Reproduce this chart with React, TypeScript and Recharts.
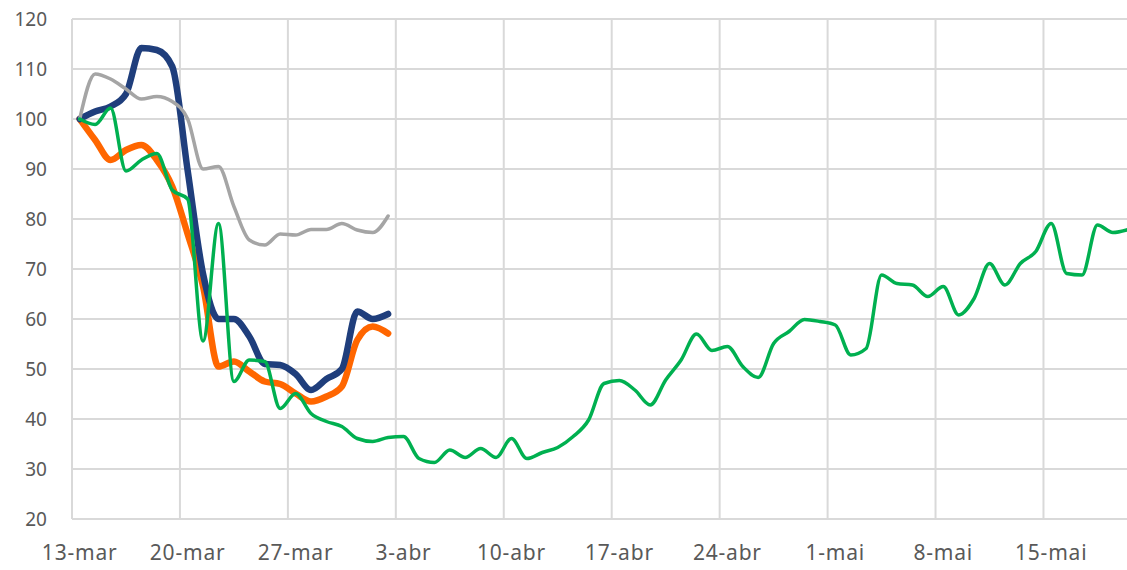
import { LineChart, Line, XAxis, YAxis, CartesianGrid } from "recharts";

// daily series starting 13-mar (index 0)
const navyValues = [
  100, 101.5, 102.5, 105, 114.2, 113.8, 110.5, 89.7, 69, 60, 60, 56.5, 51,
  50.8, 49, 45.8, 48, 50, 61.5, 60, 61,
];
const orangeValues = [
  100, 95.8, 91.8, 93.8, 94.8, 91.8, 86.5, 77, 66.5, 50.5, 51.5, 49.5, 47.5,
  47, 45.1, 43.5, 44.5, 46.5, 55.8, 58.5, 57.1,
];
const grayValues = [
  100, 109, 108, 106, 104, 104.5, 103.5, 100, 90, 90.5, 82.5, 75.8, 74.8, 77,
  76.8, 77.9, 77.9, 79.1, 77.8, 77.3, 80.6,
];
const greenValues = [
  100, 98.9, 102.2, 89.6, 91.8, 93.1, 85.8, 84, 55.6, 79.1,
  47.5, 51.8, 51.5, 42.1, 45.1, 41.1, 39.5, 38.5, 36.1, 35.5,
  36.3, 36.5, 32.1, 31.3, 33.8, 32.3, 34.1, 32.3, 36.1, 32.1,
  33.3, 34.3, 36.5, 39.8, 47.1, 47.7, 45.8, 42.8, 47.8, 51.8,
  57, 53.7, 54.5, 50.5, 48.3, 55.1, 57.5, 59.9, 59.5, 58.8,
  52.8, 54.1, 68.8, 67.1, 66.8, 64.5, 66.5, 60.8, 64.1, 71.1,
  66.8, 71.1, 73.5, 79.1, 69.1, 68.8, 78.8, 77.3, 77.9,
];

const tickDays = [0, 7, 14, 21, 28, 35, 42, 49, 56, 63];
const tickLabels = [
  "13-mar", "20-mar", "27-mar", "3-abr", "10-abr",
  "17-abr", "24-abr", "1-mai", "8-mai", "15-mai",
];
const yTicks = [20, 30, 40, 50, 60, 70, 80, 90, 100, 110, 120];

// gridlines sit between categories, labels in the middle
const gridDays = tickDays.map((d) => d - 0.5);
const xDomain = [-0.5, greenValues.length - 0.5];

const data = greenValues.map((g, i) => ({
  day: i,
  navy: navyValues[i],
  orange: orangeValues[i],
  gray: grayValues[i],
  green: g,
}));

const font = "'Noto Sans', 'Open Sans', sans-serif";

export default function App() {
  return (
    <div
      style={{
        position: "absolute",
        left: 0,
        top: 0,
        width: 1127,
        height: 570,
        overflow: "hidden",
        background: "#fff",
      }}
    >
      <LineChart
        width={1136}
        height={570}
        data={data}
        margin={{ top: 19, right: 0, bottom: 0, left: 0 }}
      >
        <CartesianGrid
          stroke="#D9D9D9"
          strokeWidth={2}
          verticalCoordinatesGenerator={({ xAxis, offset }: any) =>
            gridDays.map((d) => {
              const s = xAxis?.scale;
              const v = typeof s === "function" ? s(d) : NaN;
              if (Number.isFinite(v)) return v;
              return (
                offset.left +
                ((d - xDomain[0]) / (xDomain[1] - xDomain[0])) * offset.width
              );
            })
          }
        />
        <XAxis
          type="number"
          dataKey="day"
          domain={xDomain}
          ticks={tickDays}
          interval={0}
          allowDataOverflow
          tickFormatter={(v) => tickLabels[tickDays.indexOf(v)] ?? ""}
          axisLine={false}
          tickLine={false}
          tickSize={0}
          tickMargin={26}
          height={51}
          tick={{
            fontSize: 21,
            fill: "#595959",
            fontFamily: font,
            letterSpacing: 0.8,
          }}
        />
        <YAxis
          type="number"
          domain={[20, 120]}
          ticks={yTicks}
          interval={0}
          width={72}
          axisLine={false}
          tickLine={false}
          tickSize={0}
          tickMargin={25}
          tick={{ fontSize: 19, fill: "#595959", fontFamily: font }}
        />
        <Line
          type="monotone"
          dataKey="orange"
          stroke="#FF6600"
          strokeWidth={6.5}
          strokeLinecap="round"
          dot={false}
          activeDot={false}
          isAnimationActive={false}
        />
        <Line
          type="monotone"
          dataKey="navy"
          stroke="#1F3E7C"
          strokeWidth={6.5}
          strokeLinecap="round"
          dot={false}
          activeDot={false}
          isAnimationActive={false}
        />
        <Line
          type="monotone"
          dataKey="gray"
          stroke="#A5A5A5"
          strokeWidth={3.5}
          strokeLinecap="round"
          dot={false}
          activeDot={false}
          isAnimationActive={false}
        />
        <Line
          type="monotone"
          dataKey="green"
          stroke="#00B050"
          strokeWidth={3.5}
          strokeLinecap="round"
          dot={false}
          activeDot={false}
          isAnimationActive={false}
        />
      </LineChart>
    </div>
  );
}
